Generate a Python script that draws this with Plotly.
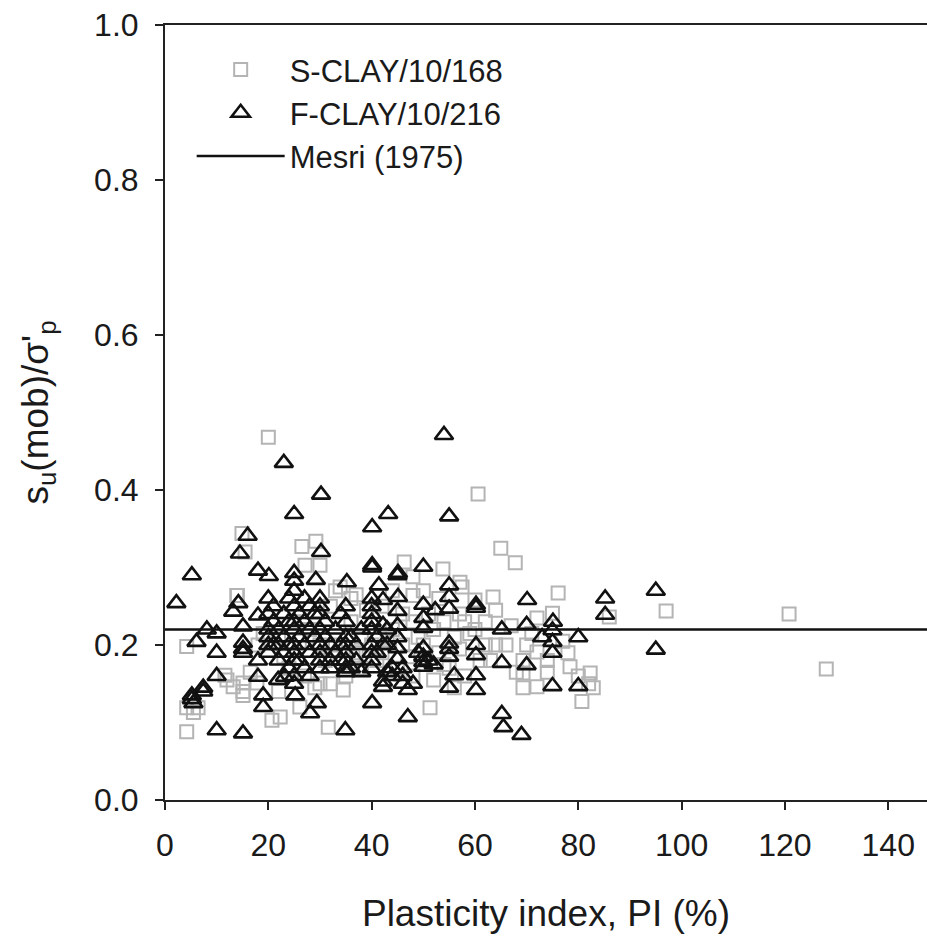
import plotly.graph_objects as go

# S-CLAY/10/168 (open grey squares)
s_pi = [4.2, 4.2, 6.4, 4.2, 5.5, 11.6, 13.2, 15.1, 15.1, 15.1, 13.9, 17.8, 20.7, 22.3, 26.1,
        29.0, 31.6, 34.5, 36.4, 12.0, 16.5, 14.9, 15.5, 20.0, 26.5, 29.2, 30.0, 27.1, 33.9, 37.0,
        14.0, 46.3, 48.0, 53.8, 57.1, 60.6, 65.0, 67.8, 76.1, 63.5, 60.0, 57.5, 48.0, 97.0, 75.0,
        86.0, 72.0, 69.3, 69.3, 69.3, 72.0, 74.0, 78.4, 82.3, 82.9, 80.7, 51.3, 120.8, 128.0,
        18.0, 19.0, 22.0, 22.0, 23.0, 24.0, 25.0, 26.0, 27.0, 28.0, 30.0, 30.0, 31.0, 32.0, 32.0,
        33.0, 33.0, 35.0, 36.0, 36.0, 37.0, 38.0, 38.0, 39.0, 40.0, 41.0, 42.0, 42.0, 43.0, 44.0,
        44.0, 45.0, 46.0, 46.0, 47.0, 48.0, 48.0, 49.0, 50.0, 50.0, 51.0, 52.0, 52.0, 53.0, 53.0,
        54.0, 54.0, 55.0, 56.0, 56.0, 57.0, 57.0, 58.0, 58.0, 59.0, 60.0, 61.0, 62.0, 62.0, 63.0,
        64.0, 64.0, 66.0, 67.0, 68.0, 70.0, 71.0, 72.0, 74.0, 77.0, 78.0, 80.0, 82.0]
s_ratio = [0.198, 0.119, 0.119, 0.088, 0.113, 0.161, 0.146, 0.151, 0.140, 0.135, 0.264, 0.151, 0.103, 0.107, 0.120,
           0.145, 0.094, 0.142, 0.185, 0.155, 0.165, 0.344, 0.320, 0.468, 0.327, 0.334, 0.303, 0.303, 0.275, 0.265,
           0.264, 0.307, 0.288, 0.298, 0.281, 0.395, 0.325, 0.306, 0.267, 0.262, 0.258, 0.275, 0.264, 0.244, 0.241,
           0.236, 0.191, 0.180, 0.164, 0.145, 0.146, 0.165, 0.172, 0.164, 0.145, 0.127, 0.119, 0.240, 0.169,
           0.200, 0.215, 0.210, 0.140, 0.185, 0.170, 0.230, 0.205, 0.160, 0.220, 0.200, 0.150, 0.180, 0.250, 0.150,
           0.270, 0.200, 0.160, 0.230, 0.260, 0.190, 0.210, 0.170, 0.245, 0.200, 0.180, 0.190, 0.250, 0.210, 0.220,
           0.270, 0.170, 0.200, 0.240, 0.185, 0.230, 0.160, 0.210, 0.200, 0.270, 0.240, 0.220, 0.155, 0.260, 0.190,
           0.230, 0.175, 0.170, 0.210, 0.145, 0.240, 0.195, 0.230, 0.160, 0.215, 0.220, 0.180, 0.230, 0.200, 0.180,
           0.200, 0.245, 0.200, 0.225, 0.165, 0.200, 0.215, 0.235, 0.180, 0.205, 0.190, 0.160, 0.150]

# F-CLAY/10/216 (open black triangles)
f_pi = [2.2, 5.2, 6.1, 8.1, 10.0, 10.0, 10.0, 10.0, 15.1, 5.2, 5.2, 5.5, 7.4, 7.4, 13.2, 14.2,
        15.1, 15.1, 15.1, 15.1, 18.0, 18.0, 18.0, 19.0, 19.0, 21.9, 23.2, 25.2, 28.1, 29.4, 34.9,
        40.1, 42.2, 23.0, 30.2, 25.0, 43.2, 40.1, 16.0, 14.5, 30.2, 40.1, 40.1, 18.0, 20.1, 25.0,
        25.0, 29.2, 35.2, 41.4, 45.0, 54.0, 55.0, 50.0, 45.1, 55.0, 95.0, 85.2, 70.1,
        85.2, 95.0, 65.2, 70.0, 75.1, 75.0, 73.0, 75.0, 80.0, 75.0, 65.2, 70.0, 75.0, 80.0, 65.2,
        65.5, 69.0, 60.2, 60.2, 60.2, 60.2, 60.2, 60.2, 55.0, 55.0, 55.0, 55.0, 55.0, 56.0, 55.0,
        50.0, 50.0, 50.0, 52.3, 45.1, 45.0, 45.0, 45.0, 45.0, 45.0, 47.0, 47.0, 48.0, 50.0, 50.0,
        50.0, 50.0, 51.0, 52.0, 49.0, 42.2, 42.2, 42.2, 42.2,
        20.0, 20.0, 20.0, 20.0, 20.0, 20.0, 21.0, 21.0, 21.0, 22.0, 22.0, 22.0, 23.0, 23.0, 23.0,
        24.0, 24.0, 24.0, 24.0, 25.0, 25.0, 25.0, 25.0, 25.0, 25.0, 25.0, 25.0, 25.0, 26.0, 26.0,
        26.0, 27.0, 27.0, 27.0, 27.0, 28.0, 28.0, 28.0, 28.0, 29.0, 29.0, 30.0, 30.0, 30.0, 30.0,
        30.0, 30.0, 30.0, 30.0, 31.0, 31.0, 32.0, 32.0, 32.0, 33.0, 33.0, 34.0, 34.0, 34.0, 35.0,
        35.0, 35.0, 35.0, 35.0, 35.0, 35.0, 35.0, 36.0, 36.0, 37.0, 37.0, 38.0, 38.0, 40.0, 40.0,
        40.0, 40.0, 40.0, 40.0, 40.0, 40.0, 40.0, 41.0, 41.0, 43.0, 43.0, 43.0, 44.0, 44.0, 46.0,
        46.0, 46.0]
f_ratio = [0.254, 0.290, 0.204, 0.220, 0.215, 0.190, 0.160, 0.090, 0.086, 0.135, 0.130, 0.125, 0.145, 0.140, 0.243, 0.254,
           0.224, 0.203, 0.195, 0.190, 0.238, 0.180, 0.159, 0.135, 0.120, 0.155, 0.159, 0.135, 0.112, 0.125, 0.090,
           0.125, 0.146, 0.435, 0.394, 0.369, 0.369, 0.352, 0.341, 0.318, 0.320, 0.303, 0.300, 0.296, 0.289, 0.293,
           0.283, 0.284, 0.281, 0.277, 0.290, 0.471, 0.366, 0.301, 0.293, 0.277, 0.270, 0.260, 0.258,
           0.239, 0.194, 0.220, 0.226, 0.230, 0.219, 0.210, 0.204, 0.210, 0.190, 0.177, 0.174, 0.147, 0.147, 0.111,
           0.094, 0.084, 0.252, 0.248, 0.200, 0.187, 0.161, 0.142, 0.262, 0.247, 0.202, 0.195, 0.185, 0.161, 0.145,
           0.252, 0.235, 0.222, 0.245, 0.262, 0.244, 0.225, 0.210, 0.196, 0.182, 0.142, 0.107, 0.150, 0.196, 0.185,
           0.178, 0.172, 0.180, 0.175, 0.190, 0.258, 0.226, 0.200, 0.153,
           0.260, 0.240, 0.220, 0.210, 0.200, 0.190, 0.250, 0.230, 0.200, 0.220, 0.200, 0.180, 0.240, 0.210, 0.190,
           0.260, 0.230, 0.200, 0.170, 0.270, 0.250, 0.230, 0.220, 0.200, 0.190, 0.180, 0.160, 0.150, 0.240, 0.210,
           0.180, 0.260, 0.230, 0.200, 0.170, 0.250, 0.220, 0.190, 0.160, 0.240, 0.210, 0.260, 0.250, 0.240, 0.220,
           0.200, 0.190, 0.180, 0.170, 0.230, 0.210, 0.200, 0.180, 0.170, 0.220, 0.190, 0.240, 0.200, 0.180, 0.250,
           0.230, 0.210, 0.200, 0.190, 0.180, 0.170, 0.165, 0.210, 0.170, 0.200, 0.180, 0.220, 0.165, 0.260, 0.250,
           0.240, 0.230, 0.220, 0.200, 0.190, 0.180, 0.170, 0.210, 0.190, 0.220, 0.200, 0.165, 0.170, 0.160, 0.170,
           0.160, 0.150]

# Mesri (1975) constant ratio
mesri_pi = [0, 150]
mesri_ratio = [0.22, 0.22]

x_ticks = [0, 20, 40, 60, 80, 100, 120, 140]
y_ticks = [0.0, 0.2, 0.4, 0.6, 0.8, 1.0]

FONT = "Liberation Sans, Arial, sans-serif"
AX = "#222222"

fig = go.Figure()
fig.add_trace(go.Scatter(
    x=s_pi, y=s_ratio, mode="markers", name="S-CLAY/10/168",
    marker=dict(symbol="square-open", size=13, color="#b4b4b4", line=dict(width=2, color="#b4b4b4")),
))
fig.add_trace(go.Scatter(
    x=f_pi, y=f_ratio, mode="markers", name="F-CLAY/10/216",
    marker=dict(symbol="triangle-up-open", size=16, color="#111111", line=dict(width=2.6, color="#111111")),
))
fig.add_trace(go.Scatter(
    x=mesri_pi, y=mesri_ratio, mode="lines", name="Mesri (1975)",
    line=dict(color="#111111", width=2.5),
))

fig.update_layout(
    width=927, height=943,
    margin=dict(l=165, r=0, t=25, b=143),
    paper_bgcolor="white", plot_bgcolor="white",
    font=dict(family=FONT, color="#1a1a1a", size=30),
    showlegend=True,
    legend=dict(x=0.035, y=0.977, xanchor="left", yanchor="top",
                font=dict(size=31, family=FONT, color="#1a1a1a"),
                bgcolor="rgba(0,0,0,0)", itemwidth=88, tracegroupgap=0),
)
fig.update_xaxes(
    range=[0, 147.5], tickvals=x_ticks, ticktext=[str(v) for v in x_ticks],
    showgrid=False, zeroline=False, showline=True, linecolor=AX, linewidth=2,
    mirror=True, ticks="outside", ticklen=8, tickwidth=2, tickcolor=AX,
    tickfont=dict(size=32, family=FONT), ticklabelstandoff=8,
    title=dict(text="Plasticity index, PI (%)", font=dict(size=37, family=FONT), standoff=38),
)
fig.update_yaxes(
    range=[0, 1.0], tickvals=y_ticks, ticktext=[f"{v:.1f}" for v in y_ticks],
    showgrid=False, zeroline=False, showline=True, linecolor=AX, linewidth=2,
    ticks="outside", ticklen=8, tickwidth=2, tickcolor=AX,
    tickfont=dict(size=32, family=FONT), ticklabelstandoff=10,
    title=dict(text="s<sub>u</sub>(mob)/σ'<sub>p</sub>", font=dict(size=37, family=FONT), standoff=34),
)

fig.write_html("out.html")
